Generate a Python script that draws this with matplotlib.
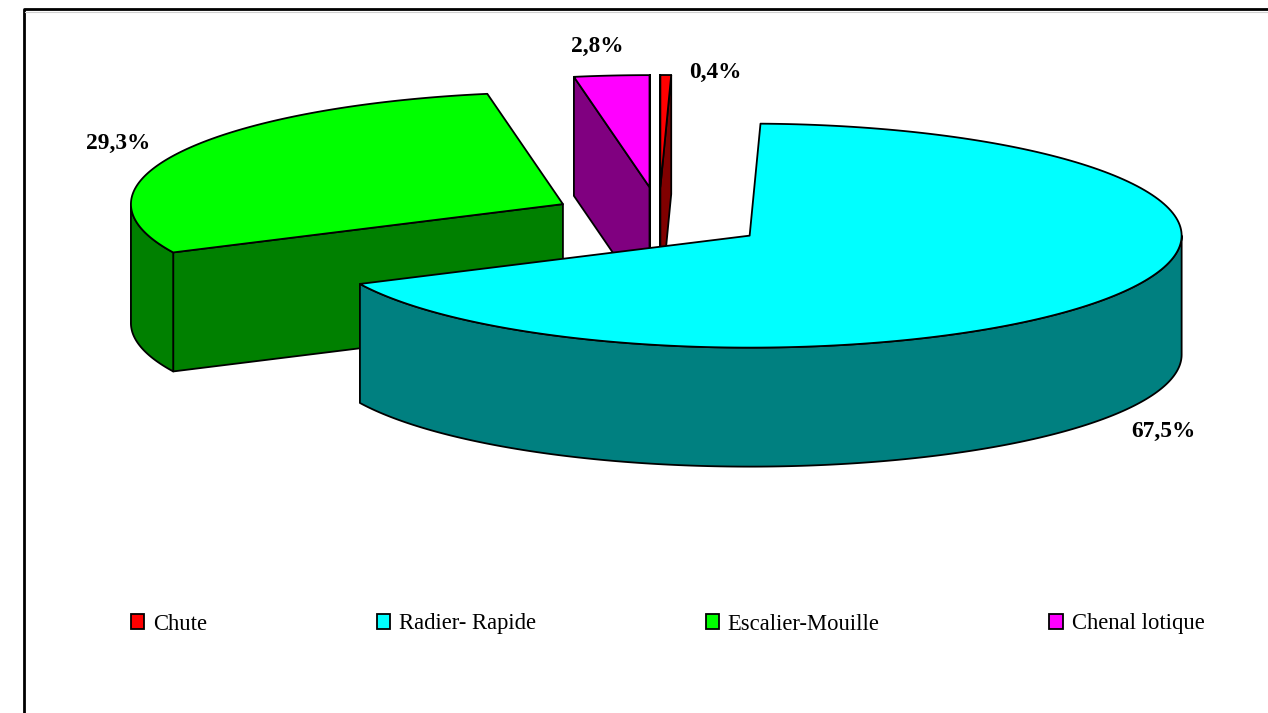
import numpy as np
import matplotlib
matplotlib.use("Agg")
import matplotlib.pyplot as plt
from matplotlib.patches import Polygon, Patch

plt.rcParams["font.family"] = ["Liberation Serif", "DejaVu Serif"]

# data (percent, clockwise from 12 o'clock)
categories = ["Chute", "Radier- Rapide", "Escalier-Mouille", "Chenal lotique"]
values     = [0.4, 67.5, 29.3, 2.8]
top_colors  = ["#FF0000", "#00FFFF", "#00FF00", "#FF00FF"]
side_colors = ["#800000", "#008080", "#008000", "#800080"]

# layout in pixel units (figure is 1268 x 713)
W, H       = 1268, 713
CENTER     = (659.0, 218.5)
RX, RY     = 432.0, 112.0
DEPTH      = 119.0
EXPLODE    = (108.0, 31.5)
START      = 90.0
DRAW_ORDER = [2, 3, 0, 1]
LABEL_XY   = [(715, 72), (1163, 431), (118, 143), (597, 46)]
LW         = 1.3


def arc(cx, cy, t0, t1, n=200):
    t = np.radians(np.linspace(t0, t1, n))
    return cx + RX * np.cos(t), cy - RY * np.sin(t)


def edge(cx, cy, t):
    r = np.radians(t)
    return cx + RX * np.cos(r), cy - RY * np.sin(r)


def poly(ax, xs, ys, color):
    ax.add_patch(Polygon(np.column_stack([xs, ys]), closed=True,
                         facecolor=color, edgecolor="black", lw=LW,
                         joinstyle="round"))


fig = plt.figure(figsize=(W / 100, H / 100), dpi=100)
ax = fig.add_axes([0, 0, 1, 1])
ax.set_xlim(0, W)
ax.set_ylim(H, 0)
ax.axis("off")

cum = np.concatenate([[0], np.cumsum(values)])
for i in DRAW_ORDER:
    t_hi = START - cum[i] * 3.6
    t_lo = START - cum[i + 1] * 3.6
    mid = np.radians((t_hi + t_lo) / 2)
    cx = CENTER[0] + EXPLODE[0] * np.cos(mid)
    cy = CENTER[1] - EXPLODE[1] * np.sin(mid)
    side = side_colors[i]

    # radial walls facing the viewer
    for t, normal in [(t_hi, t_hi + 90), (t_lo, t_lo - 90)]:
        if np.sin(np.radians(normal)) <= 1e-6:
            ex, ey = edge(cx, cy, t)
            poly(ax, [cx, ex, ex, cx], [cy, ey, ey + DEPTH, cy + DEPTH], side)

    # outer wall (front half only)
    for k in (-1, 0, 1):
        lo = max(t_lo, -180 + 360 * k)
        hi = min(t_hi, 0 + 360 * k)
        if lo < hi:
            xs, ys = arc(cx, cy, hi, lo)
            poly(ax, np.concatenate([xs, xs[::-1]]),
                 np.concatenate([ys, ys[::-1] + DEPTH]), side)

    # top face
    xs, ys = arc(cx, cy, t_hi, t_lo)
    poly(ax, np.concatenate([[cx], xs]), np.concatenate([[cy], ys]), top_colors[i])

for v, (lx, ly) in zip(values, LABEL_XY):
    ax.text(lx, ly, f"{v:.1f}%".replace(".", ","), ha="center", va="center",
            fontsize=16.8, fontweight="bold")

handles = [Patch(facecolor=c, edgecolor="black", lw=LW, label=l)
           for c, l in zip(top_colors, categories)]
ax.legend(handles=handles, loc="center", bbox_to_anchor=(667.5, 624),
          bbox_transform=ax.transData, ncol=4, frameon=False, fontsize=16.3,
          handlelength=0.58, handleheight=0.58, handletextpad=0.4,
          columnspacing=7.5, borderpad=0)

# chart border (runs off the right and bottom edges)
ax.plot([23.5, 23.5, W], [H, 9, 9], color="black", lw=2, solid_capstyle="butt")
ax.plot([25, W], [11.5, 11.5], color="#d0d0d0", lw=0.8)

fig.savefig("out.png", dpi=100)
